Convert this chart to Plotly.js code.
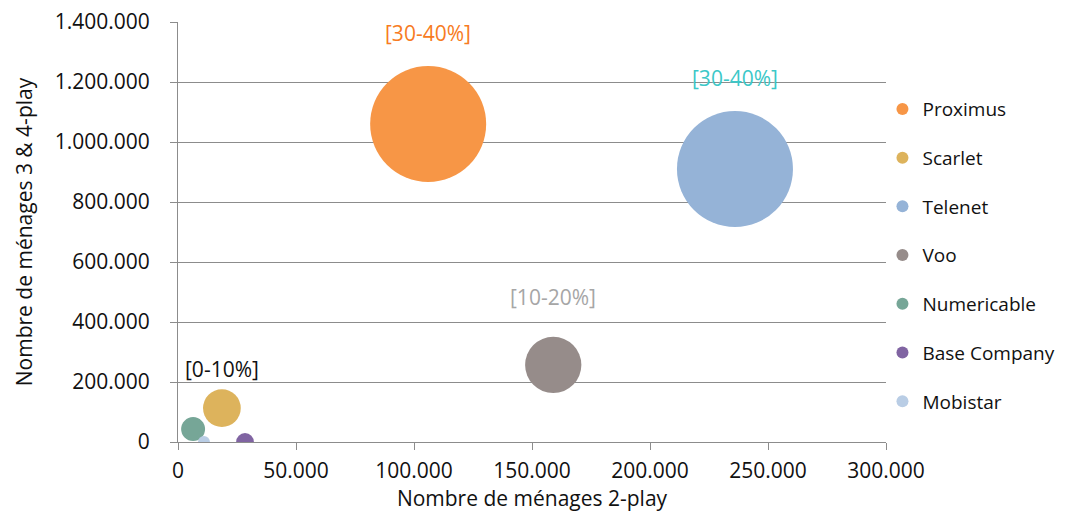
<!DOCTYPE html>
<html>
<head>
<meta charset="utf-8">
<script src="https://cdn.plot.ly/plotly-3.0.1.min.js"></script>
<style>html,body{margin:0;padding:0;background:#fff;}#chart{width:1075px;height:514px;}</style>
</head>
<body>
<div id="chart"></div>
<script>
const operators = ["Proximus", "Scarlet", "Telenet", "Voo", "Numericable", "Base Company", "Mobistar"];
const households2play = [106000, 18600, 236000, 159000, 6400, 28400, 11000];
const households34play = [1060000, 113000, 910000, 257000, 43000, 0, 0];
const bubbleSizes = [34, 3.6, 34, 8, 1.45, 0.8, 0.36];
const colors = ["#F79646", "#DDB35C", "#95B3D7", "#968C8A", "#76A697", "#8064A2", "#B9CDE5"];

const shareLabels = ["[30-40%]", "[0-10%]", "[30-40%]", "[10-20%]"];
const labelColors = ["#F77B22", "#111111", "#3CC8C8", "#A6A6A6"];
const labelShifts = [91, 39, 91, 68];

const sizeref = 34 / (2 * 58 * 58);

const traces = operators.map((name, i) => ({
  type: "scatter",
  mode: "markers",
  name: name,
  legendgroup: "g" + i,
  x: [households2play[i]],
  y: [households34play[i]],
  marker: {
    size: [bubbleSizes[i]],
    sizemode: "area",
    sizeref: sizeref,
    color: colors[i],
    opacity: 1,
    line: {width: 0}
  },
  cliponaxis: true,
  hoverinfo: "name+x+y"
}));

const annotations = shareLabels.map((t, i) => ({
  x: households2play[i],
  y: households34play[i],
  xref: "x", yref: "y",
  text: t,
  showarrow: false,
  yshift: labelShifts[i],
  font: {family: "Open Sans, sans-serif", size: 21, color: labelColors[i]}
}));

const tickFont = {family: "Open Sans, sans-serif", size: 21, color: "#111"};

const layout = {
  width: 1075, height: 514,
  margin: {l: 178, r: 189, t: 22, b: 72},
  paper_bgcolor: "#fff", plot_bgcolor: "#fff",
  separators: ",.",
  showlegend: true,
  legend: {
    x: 0.995, xanchor: "left", y: 0.445, yanchor: "middle",
    font: {family: "Open Sans, sans-serif", size: 19, color: "#111"},
    itemsizing: "constant",
    itemwidth: 30,
    tracegroupgap: 21,
    bgcolor: "rgba(0,0,0,0)"
  },
  xaxis: {
    range: [0, 300000], dtick: 50000, tick0: 0,
    tickformat: ",d",
    showgrid: false, zeroline: false,
    showline: true, linecolor: "#8C8C8C", linewidth: 1,
    ticks: "outside", ticklen: 7, tickcolor: "#8C8C8C",
    tickfont: tickFont,
    ticklabelstandoff: 3,
    title: {text: "Nombre de ménages 2-play", font: tickFont, standoff: 0}
  },
  yaxis: {
    range: [0, 1400000], dtick: 200000, tick0: 0,
    tickformat: ",d",
    showgrid: true, gridcolor: "#8C8C8C", gridwidth: 1,
    zeroline: false,
    showline: true, linecolor: "#8C8C8C", linewidth: 1,
    ticks: "outside", ticklen: 7, tickcolor: "#8C8C8C",
    tickfont: tickFont,
    ticklabelstandoff: 16,
    title: {text: "Nombre de ménages 3 & 4-play", font: tickFont, standoff: 16}
  },
  annotations: annotations
};

Plotly.newPlot("chart", traces, layout, {displayModeBar: false, staticPlot: true});
</script>
</body>
</html>
